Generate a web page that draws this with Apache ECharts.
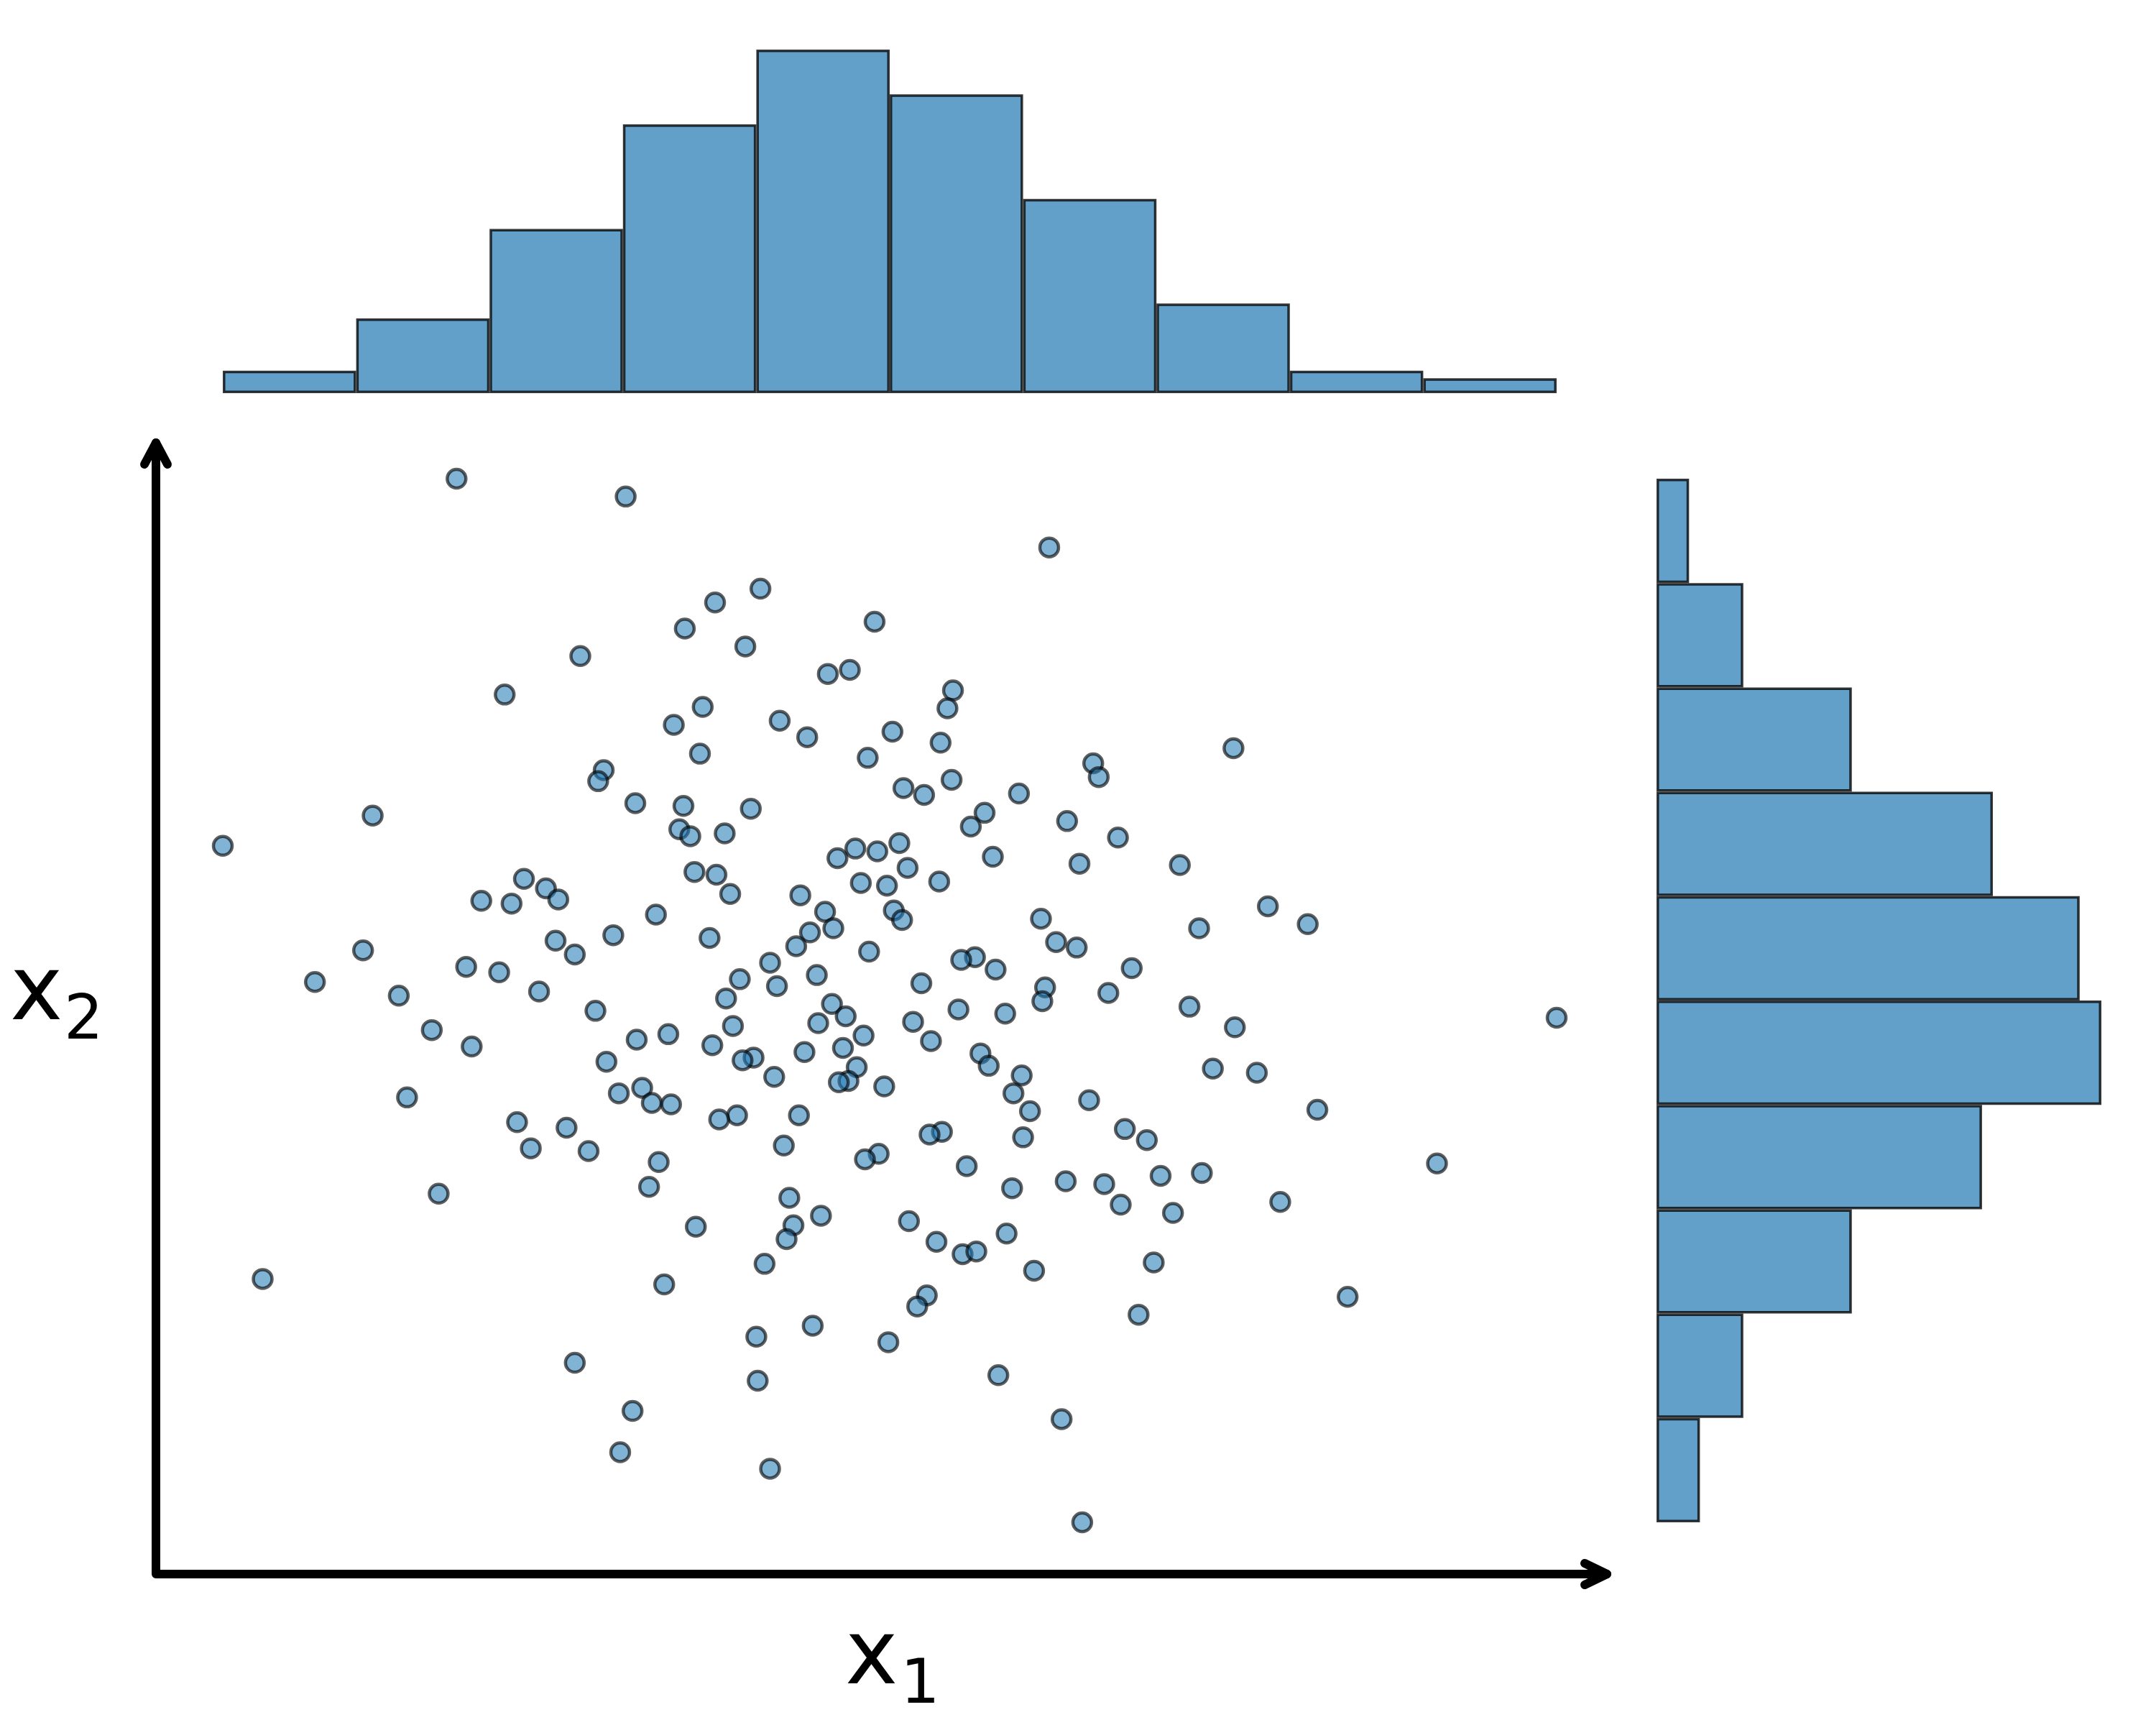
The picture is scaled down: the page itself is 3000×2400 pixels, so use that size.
<!DOCTYPE html>
<html>
<head>
  <meta charset="utf-8">
  <title>scatter with marginal histograms</title>
  <script src="https://cdn.jsdelivr.net/npm/echarts/dist/echarts.min.js"></script>
  <style>
    html, body { margin: 0; padding: 0; background: #fff; }
    #chart { width: 3000px; height: 2400px; }
  </style>
</head>
<body>
  <div id="chart"></div>
  <script>
    // sample values (arbitrary units, x2 grows downward)
    var x1 = [
      332, 455, 763, 553, 520, 636, 498, 542, 422, 602,
      618, 693, 367, 689, 511, 567, 490, 649, 587, 684,
      897, 509, 631, 795, 439, 799, 435, 692, 657, 672,
      741, 462, 497, 546, 271, 716, 776, 494, 706, 502,
      527, 813, 162, 654, 622, 638, 609, 722, 785, 858,
      660, 505, 521, 381, 626, 683, 645, 397, 531, 350,
      406, 372, 582, 922, 650, 600, 656, 757, 477, 951,
      872, 606, 589, 446, 404, 516, 768, 579, 783, 632,
      264, 418, 709, 699, 560, 339, 363, 724, 823, 594,
      229, 538, 670, 565, 760, 392, 806, 290, 528, 758,
      605, 865, 697, 433, 731, 615, 1132, 595, 664, 533,
      898, 314, 486, 628, 463, 518, 677, 343, 613, 585,
      713, 548, 540, 441, 719, 623, 882, 914, 743, 563,
      617, 610, 643, 467, 450, 737, 296, 474, 488, 792,
      958, 749, 536, 581, 523, 376, 412, 818, 685, 676,
      744, 834, 386, 428, 570, 639, 629, 479, 1045, 703,
      844, 874, 775, 803, 736, 472, 319, 574, 931, 815,
      853, 597, 661, 577, 506, 732, 572, 681, 700, 710,
      839, 556, 752, 191, 483, 980, 674, 667, 828, 591,
      550, 646, 418, 726, 551, 460, 772, 451, 560, 787
    ];
    var x2 = [
      348, 361, 398, 428, 438, 452, 457, 470, 477, 490,
      487, 502, 505, 515, 514, 524, 527, 532, 536, 540,
      544, 548, 551, 555, 560, 565, 568, 567, 573, 578,
      577, 584, 586, 588, 593, 591, 597, 603, 601, 608,
      606, 609, 615, 613, 617, 619, 624, 623, 628, 629,
      631, 634, 636, 639, 642, 641, 644, 646, 650, 655,
      654, 657, 651, 659, 662, 663, 669, 668, 665, 672,
      675, 675, 678, 680, 684, 682, 685, 688, 689, 692,
      691, 694, 696, 698, 700, 703, 707, 705, 704, 709,
      714, 712, 715, 717, 718, 721, 722, 724, 726, 728,
      730, 732, 734, 735, 737, 739, 740, 744, 743, 746,
      747, 749, 752, 753, 756, 760, 757, 761, 762, 765,
      766, 769, 771, 772, 775, 776, 777, 780, 782, 783,
      786, 787, 790, 791, 795, 795, 798, 802, 803, 800,
      807, 808, 811, 811, 814, 816, 820, 821, 823, 825,
      827, 829, 835, 837, 833, 839, 843, 845, 846, 848,
      855, 853, 859, 861, 864, 863, 868, 871, 874, 876,
      882, 884, 888, 891, 892, 897, 901, 903, 912, 910,
      918, 919, 924, 930, 934, 943, 942, 950, 956, 964,
      972, 976, 991, 1000, 1004, 1026, 1032, 1056, 1068, 1107
    ];

    // histogram counts (10 bins each), x2 bins listed from top to bottom
    var binNames = ['b1', 'b2', 'b3', 'b4', 'b5', 'b6', 'b7', 'b8', 'b9', 'b10'];
    var x1Counts = [3, 10, 22, 36, 46, 40, 26, 12, 3, 2];
    var x2Counts = [3, 8, 18, 31, 39, 41, 30, 18, 8, 4];

    var fill = 'rgba(31,119,180,0.7)';
    var edge = 'rgba(0,0,0,0.78)';

    var points = x1.map(function (v, i) { return [v, x2[i]]; });

    var chart = echarts.init(document.getElementById('chart'));

    var option = {
      animation: false,
      backgroundColor: '#fff',
      grid: [
        // scatter
        { left: 310, right: 834, top: 666, bottom: 282, outerBoundsMode: 'none' },
        // top histogram
        { left: 310, right: 834, top: 69, bottom: 1853, outerBoundsMode: 'none' },
        // right histogram
        { left: 2305, right: 76, top: 666, bottom: 282, outerBoundsMode: 'none' }
      ],
      xAxis: [
        { gridIndex: 0, type: 'value', min: 162, max: 1132, show: false },
        { gridIndex: 1, type: 'category', data: binNames, show: false },
        { gridIndex: 2, type: 'value', min: 0, max: 41, show: false }
      ],
      yAxis: [
        { gridIndex: 0, type: 'value', min: 348, max: 1107, inverse: true, show: false },
        { gridIndex: 1, type: 'value', min: 0, max: 46, show: false },
        { gridIndex: 2, type: 'category', data: binNames, inverse: true, show: false }
      ],
      series: [
        {
          type: 'scatter',
          xAxisIndex: 0,
          yAxisIndex: 0,
          data: points,
          symbol: 'circle',
          symbolSize: 26,
          itemStyle: { color: fill, borderColor: edge, borderWidth: 4.5 }
        },
        {
          type: 'bar',
          xAxisIndex: 1,
          yAxisIndex: 1,
          data: x1Counts,
          barWidth: '100%',
          itemStyle: { color: fill, borderColor: edge, borderWidth: 3.5 }
        },
        {
          type: 'bar',
          xAxisIndex: 2,
          yAxisIndex: 2,
          data: x2Counts,
          barWidth: '100%',
          itemStyle: { color: fill, borderColor: edge, borderWidth: 3.5 }
        }
      ],
      graphic: [
        // axis lines
        {
          type: 'polyline',
          shape: { points: [[217, 616], [217, 2190], [2236, 2190]] },
          style: { stroke: '#000', fill: null, lineWidth: 12, lineJoin: 'round', lineCap: 'round' }
        },
        // arrow heads
        {
          type: 'polyline',
          shape: { points: [[201, 646], [217, 616], [233, 646]] },
          style: { stroke: '#000', fill: null, lineWidth: 12, lineJoin: 'round', lineCap: 'round' }
        },
        {
          type: 'polyline',
          shape: { points: [[2205, 2175], [2236, 2190], [2205, 2205]] },
          style: { stroke: '#000', fill: null, lineWidth: 12, lineJoin: 'round', lineCap: 'round' }
        },
        // axis labels
        {
          type: 'text', left: 14, top: 1324,
          style: { text: 'x', font: '124px "DejaVu Sans"', fill: '#000' }
        },
        {
          type: 'text', left: 89, top: 1380,
          style: { text: '2', font: '86px "DejaVu Sans"', fill: '#000' }
        },
        {
          type: 'text', left: 1176, top: 2248,
          style: { text: 'x', font: '124px "DejaVu Sans"', fill: '#000' }
        },
        {
          type: 'text', left: 1253, top: 2304,
          style: { text: '1', font: '86px "DejaVu Sans"', fill: '#000' }
        }
      ]
    };

    chart.setOption(option);
  </script>
</body>
</html>
